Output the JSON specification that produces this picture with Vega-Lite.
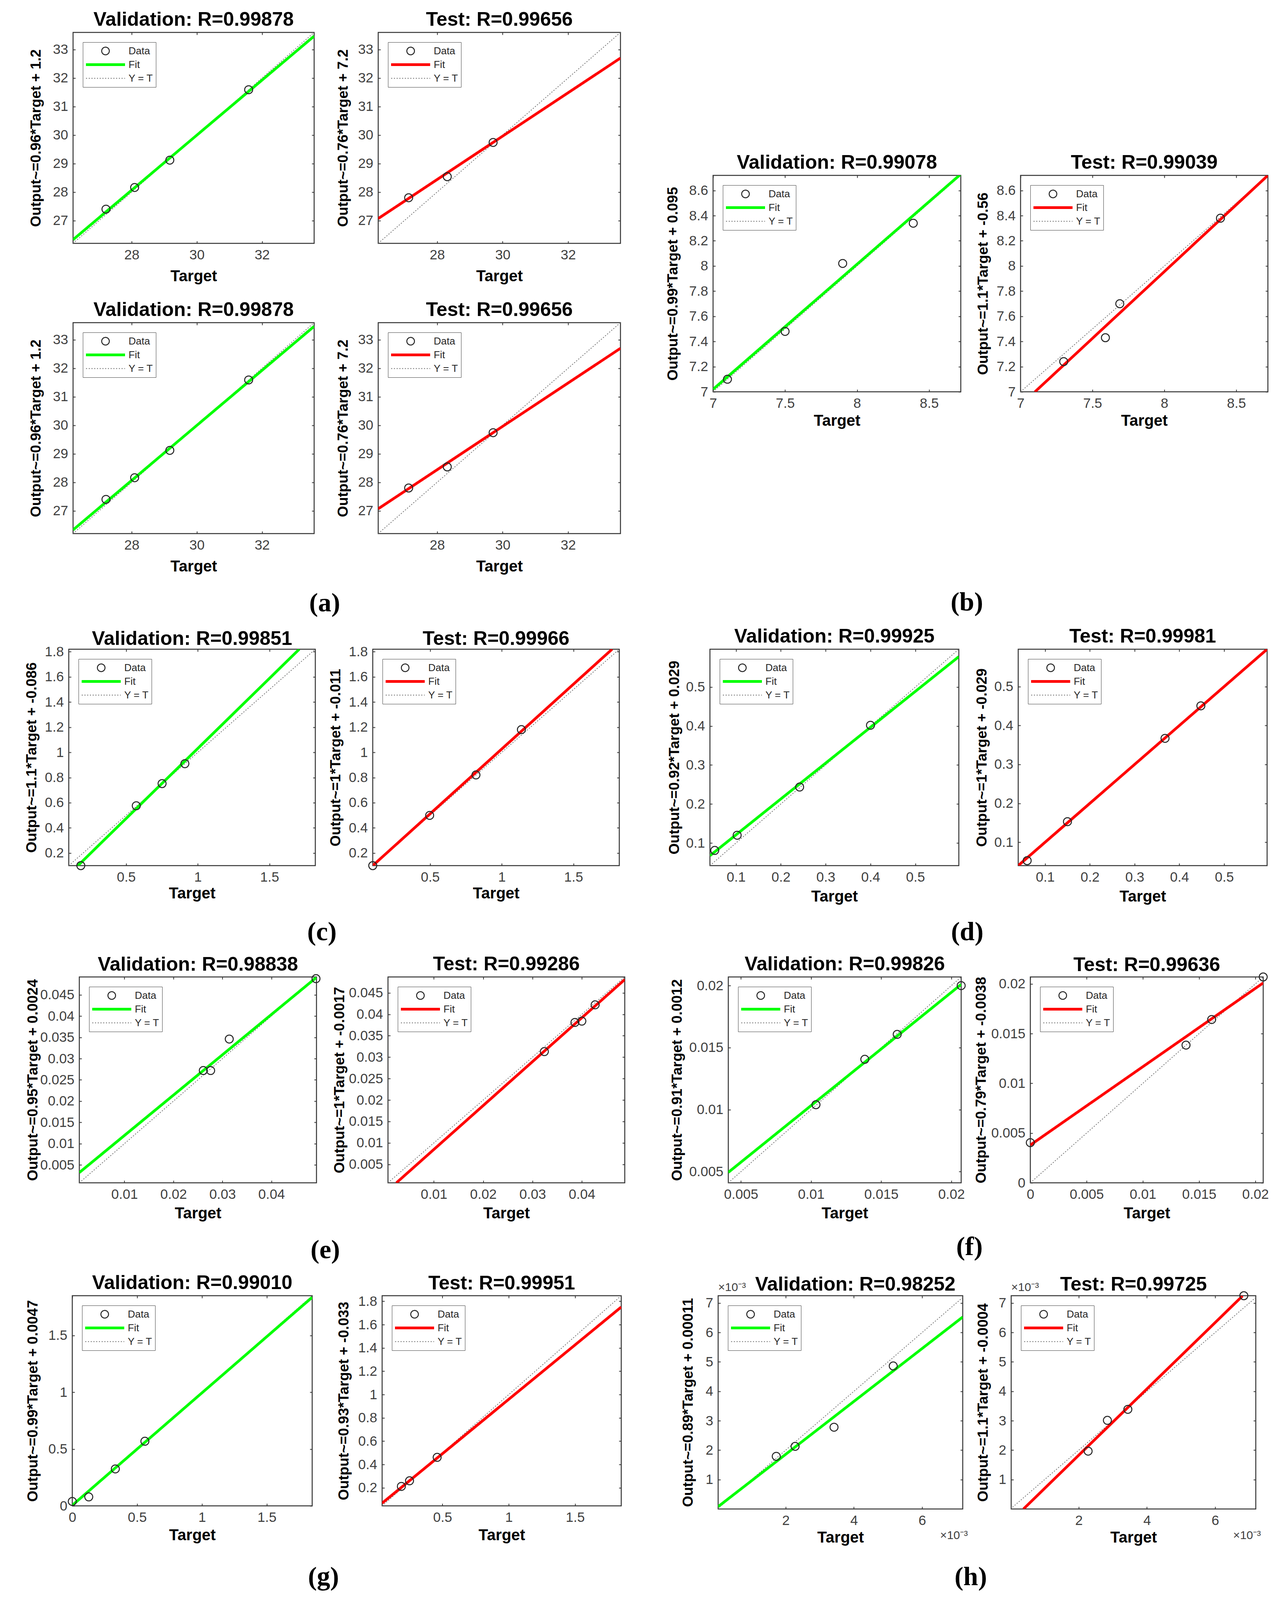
{
"$schema": "https://vega.github.io/schema/vega-lite/v6.json",
"padding": {"left": 54, "top": 24, "right": 10, "bottom": 5},
"background": "white",
"data": {"values": [
{"panel":"a1v","series":"Data","t":27.21,"o":27.40},{"panel":"a1v","series":"Data","t":28.09,"o":28.16},{"panel":"a1v","series":"Data","t":29.17,"o":29.12},{"panel":"a1v","series":"Data","t":31.59,"o":31.59},
{"panel":"a1v","series":"Fit","t":26.2,"o":26.33},{"panel":"a1v","series":"Fit","t":33.6,"o":33.47},
{"panel":"a1v","series":"Y = T","t":26.2,"o":26.2},{"panel":"a1v","series":"Y = T","t":33.6,"o":33.6},
{"panel":"a1t","series":"Data","t":27.13,"o":27.80},{"panel":"a1t","series":"Data","t":28.31,"o":28.54},{"panel":"a1t","series":"Data","t":29.71,"o":29.74},
{"panel":"a1t","series":"Fit","t":26.2,"o":27.07},{"panel":"a1t","series":"Fit","t":33.6,"o":32.70},
{"panel":"a1t","series":"Y = T","t":26.2,"o":26.2},{"panel":"a1t","series":"Y = T","t":33.6,"o":33.6},
{"panel":"bv","series":"Data","t":7.10,"o":7.10},{"panel":"bv","series":"Data","t":7.50,"o":7.48},{"panel":"bv","series":"Data","t":7.90,"o":8.02},{"panel":"bv","series":"Data","t":8.39,"o":8.34},
{"panel":"bv","series":"Fit","t":7.0,"o":7.02},{"panel":"bv","series":"Fit","t":8.72,"o":8.73},
{"panel":"bv","series":"Y = T","t":7.0,"o":7.0},{"panel":"bv","series":"Y = T","t":8.72,"o":8.72},
{"panel":"bt","series":"Data","t":7.30,"o":7.24},{"panel":"bt","series":"Data","t":7.59,"o":7.43},{"panel":"bt","series":"Data","t":7.69,"o":7.70},{"panel":"bt","series":"Data","t":8.39,"o":8.38},
{"panel":"bt","series":"Fit","t":7.1,"o":7.0},{"panel":"bt","series":"Fit","t":8.72,"o":8.72},
{"panel":"bt","series":"Y = T","t":7.0,"o":7.0},{"panel":"bt","series":"Y = T","t":8.72,"o":8.72},
{"panel":"cv","series":"Data","t":0.184,"o":0.10},{"panel":"cv","series":"Data","t":0.571,"o":0.576},{"panel":"cv","series":"Data","t":0.751,"o":0.752},{"panel":"cv","series":"Data","t":0.910,"o":0.910},
{"panel":"cv","series":"Fit","t":0.164,"o":0.1},{"panel":"cv","series":"Fit","t":1.708,"o":1.82},
{"panel":"cv","series":"Y = T","t":0.1,"o":0.1},{"panel":"cv","series":"Y = T","t":1.82,"o":1.82},
{"panel":"ct","series":"Data","t":0.1,"o":0.1},{"panel":"ct","series":"Data","t":0.497,"o":0.499},{"panel":"ct","series":"Data","t":0.82,"o":0.821},{"panel":"ct","series":"Data","t":1.137,"o":1.181},
{"panel":"ct","series":"Fit","t":0.1,"o":0.1},{"panel":"ct","series":"Fit","t":1.77,"o":1.82},
{"panel":"ct","series":"Y = T","t":0.1,"o":0.1},{"panel":"ct","series":"Y = T","t":1.82,"o":1.82},
{"panel":"dv","series":"Data","t":0.0527,"o":0.081},{"panel":"dv","series":"Data","t":0.1027,"o":0.12},{"panel":"dv","series":"Data","t":0.242,"o":0.2435},{"panel":"dv","series":"Data","t":0.4,"o":0.402},
{"panel":"dv","series":"Fit","t":0.042,"o":0.0676},{"panel":"dv","series":"Fit","t":0.597,"o":0.578},
{"panel":"dv","series":"Y = T","t":0.042,"o":0.042},{"panel":"dv","series":"Y = T","t":0.597,"o":0.597},
{"panel":"dt","series":"Data","t":0.06,"o":0.0528},{"panel":"dt","series":"Data","t":0.15,"o":0.153},{"panel":"dt","series":"Data","t":0.368,"o":0.367},{"panel":"dt","series":"Data","t":0.448,"o":0.4505},
{"panel":"dt","series":"Fit","t":0.04,"o":0.04},{"panel":"dt","series":"Fit","t":0.596,"o":0.596},
{"panel":"dt","series":"Y = T","t":0.04,"o":0.04},{"panel":"dt","series":"Y = T","t":0.596,"o":0.596},
{"panel":"ev","series":"Data","t":0.0261,"o":0.0272},{"panel":"ev","series":"Data","t":0.0276,"o":0.0272},{"panel":"ev","series":"Data","t":0.0314,"o":0.0346},{"panel":"ev","series":"Data","t":0.0491,"o":0.0488},
{"panel":"ev","series":"Fit","t":0.0008,"o":0.0032},{"panel":"ev","series":"Fit","t":0.0492,"o":0.0491},
{"panel":"ev","series":"Y = T","t":0.0008,"o":0.0008},{"panel":"ev","series":"Y = T","t":0.0492,"o":0.0492},
{"panel":"et","series":"Data","t":0.0324,"o":0.0313},{"panel":"et","series":"Data","t":0.0386,"o":0.0381},{"panel":"et","series":"Data","t":0.04,"o":0.0384},{"panel":"et","series":"Data","t":0.0427,"o":0.0422},
{"panel":"et","series":"Fit","t":0.0024,"o":0.0007},{"panel":"et","series":"Fit","t":0.0487,"o":0.0481},
{"panel":"et","series":"Y = T","t":0.0007,"o":0.0007},{"panel":"et","series":"Y = T","t":0.0487,"o":0.0487},
{"panel":"fv","series":"Data","t":0.01035,"o":0.0104},{"panel":"fv","series":"Data","t":0.01383,"o":0.01406},{"panel":"fv","series":"Data","t":0.01614,"o":0.01607},{"panel":"fv","series":"Data","t":0.0207,"o":0.02},
{"panel":"fv","series":"Fit","t":0.0041,"o":0.00494},{"panel":"fv","series":"Fit","t":0.0207,"o":0.0201},
{"panel":"fv","series":"Y = T","t":0.0041,"o":0.0041},{"panel":"fv","series":"Y = T","t":0.0207,"o":0.0207},
{"panel":"ft","series":"Data","t":0,"o":0.00404},{"panel":"ft","series":"Data","t":0.01384,"o":0.01385},{"panel":"ft","series":"Data","t":0.01612,"o":0.01642},{"panel":"ft","series":"Data","t":0.0207,"o":0.0207},
{"panel":"ft","series":"Fit","t":0,"o":0.0038},{"panel":"ft","series":"Fit","t":0.0207,"o":0.0201},
{"panel":"ft","series":"Y = T","t":0,"o":0},{"panel":"ft","series":"Y = T","t":0.0207,"o":0.0207},
{"panel":"gv","series":"Data","t":0,"o":0.039},{"panel":"gv","series":"Data","t":0.127,"o":0.079},{"panel":"gv","series":"Data","t":0.332,"o":0.325},{"panel":"gv","series":"Data","t":0.56,"o":0.569},
{"panel":"gv","series":"Fit","t":0,"o":0.005},{"panel":"gv","series":"Fit","t":1.85,"o":1.836},
{"panel":"gv","series":"Y = T","t":0,"o":0},{"panel":"gv","series":"Y = T","t":1.85,"o":1.85},
{"panel":"gt","series":"Data","t":0.19,"o":0.212},{"panel":"gt","series":"Data","t":0.2515,"o":0.26},{"panel":"gt","series":"Data","t":0.46,"o":0.461},
{"panel":"gt","series":"Fit","t":0.045,"o":0.068},{"panel":"gt","series":"Fit","t":1.848,"o":1.751},
{"panel":"gt","series":"Y = T","t":0.045,"o":0.045},{"panel":"gt","series":"Y = T","t":1.848,"o":1.848},
{"panel":"hv","series":"Data","t":0.001724,"o":0.00179},{"panel":"hv","series":"Data","t":0.002276,"o":0.002129},{"panel":"hv","series":"Data","t":0.003417,"o":0.00278},{"panel":"hv","series":"Data","t":0.005153,"o":0.004862},
{"panel":"hv","series":"Fit","t":0.00002,"o":0.000079},{"panel":"hv","series":"Fit","t":0.00719,"o":0.006525},
{"panel":"hv","series":"Y = T","t":0,"o":0},{"panel":"hv","series":"Y = T","t":0.00725,"o":0.00725},
{"panel":"ht","series":"Data","t":0.002276,"o":0.001966},{"panel":"ht","series":"Data","t":0.00284,"o":0.003014},{"panel":"ht","series":"Data","t":0.00344,"o":0.003387},{"panel":"ht","series":"Data","t":0.00684,"o":0.00725},
{"panel":"ht","series":"Fit","t":0.00038,"o":0},{"panel":"ht","series":"Fit","t":0.0068,"o":0.00724},
{"panel":"ht","series":"Y = T","t":0,"o":0},{"panel":"ht","series":"Y = T","t":0.00725,"o":0.00725}
]},
"vconcat": [
{"hconcat": [
 {"hconcat": [
  {"width": 17, "height": 10, "data": {"values": []}, "mark": "point", "view": {"stroke": null}},
  {"vconcat": [
    {"hconcat": [
      {"width": 617, "height": 540, "title": {"text": "Validation: R=0.99878"}, "transform": [{"filter": "datum.panel === 'a1v'"}],
       "layer": [
        {"transform": [{"filter": "datum.series === 'Y = T'"}], "mark": {"type": "line", "strokeDash": [3, 4], "strokeWidth": 2, "clip": true},
         "encoding": {"x": {"field": "t", "type": "quantitative", "scale": {"domain": [26.2, 33.6], "nice": false, "zero": false}, "axis": {"orient": "top", "values": [28, 30, 32], "labels": false, "title": null}},
                      "y": {"field": "o", "type": "quantitative", "scale": {"domain": [26.2, 33.6], "nice": false, "zero": false}, "axis": {"orient": "right", "values": [27, 28, 29, 30, 31, 32, 33], "labels": false, "title": null}},
                      "color": {"field": "series", "type": "nominal", "scale": {"domain": ["Data", "Fit", "Y = T"], "range": ["#262626", "#00ff00", "#777777"]},
                                "legend": {"title": null, "orient": "top-left", "offset": 25, "encode": {"symbols": {"update": {"shape": {"signal": "(datum.value === 'Data' ? 'circle' : 'stroke')"}, "size": {"signal": "(datum.value === 'Data' ? 380 : 10000)"}, "strokeWidth": {"signal": "(datum.value === 'Fit' ? 7 : (datum.value === 'Data' ? 2.5 : 2))"}, "strokeDash": {"signal": "(datum.value === 'Y = T' ? [3, 4] : [1, 0])"}, "fill": {"value": "transparent"}, "opacity": {"value": 1}}}}}}}},
        {"transform": [{"filter": "datum.series === 'Fit'"}], "mark": {"type": "line", "strokeWidth": 7, "clip": true},
         "encoding": {"x": {"field": "t", "type": "quantitative", "scale": {"domain": [26.2, 33.6], "nice": false, "zero": false}, "axis": {"orient": "bottom", "values": [28, 30, 32], "format": "~g", "title": "Target", "minExtent": 64, "maxExtent": 64}},
                      "y": {"field": "o", "type": "quantitative", "scale": {"domain": [26.2, 33.6], "nice": false, "zero": false}, "axis": {"orient": "left", "values": [27, 28, 29, 30, 31, 32, 33], "format": "~g", "title": "Output~=0.96*Target + 1.2", "minExtent": 76, "maxExtent": 76}},
                      "color": {"field": "series", "type": "nominal"}}},
        {"transform": [{"filter": "datum.series === 'Data'"}], "mark": {"type": "point", "filled": false, "size": 420, "strokeWidth": 2.5, "opacity": 1},
         "encoding": {"x": {"field": "t", "type": "quantitative", "axis": null}, "y": {"field": "o", "type": "quantitative", "axis": null}, "color": {"field": "series", "type": "nominal"}}}
       ],
       "resolve": {"axis": {"x": "independent", "y": "independent"}}},
      {"width": 620, "height": 540, "title": {"text": "Test: R=0.99656"}, "transform": [{"filter": "datum.panel === 'a1t'"}],
       "layer": [
        {"transform": [{"filter": "datum.series === 'Y = T'"}], "mark": {"type": "line", "strokeDash": [3, 4], "strokeWidth": 2, "clip": true},
         "encoding": {"x": {"field": "t", "type": "quantitative", "scale": {"domain": [26.2, 33.6], "nice": false, "zero": false}, "axis": {"orient": "top", "values": [28, 30, 32], "labels": false, "title": null}},
                      "y": {"field": "o", "type": "quantitative", "scale": {"domain": [26.2, 33.6], "nice": false, "zero": false}, "axis": {"orient": "right", "values": [27, 28, 29, 30, 31, 32, 33], "labels": false, "title": null}},
                      "color": {"field": "series", "type": "nominal", "scale": {"domain": ["Data", "Fit", "Y = T"], "range": ["#262626", "#ff0000", "#777777"]},
                                "legend": {"title": null, "orient": "top-left", "offset": 25, "encode": {"symbols": {"update": {"shape": {"signal": "(datum.value === 'Data' ? 'circle' : 'stroke')"}, "size": {"signal": "(datum.value === 'Data' ? 380 : 10000)"}, "strokeWidth": {"signal": "(datum.value === 'Fit' ? 7 : (datum.value === 'Data' ? 2.5 : 2))"}, "strokeDash": {"signal": "(datum.value === 'Y = T' ? [3, 4] : [1, 0])"}, "fill": {"value": "transparent"}, "opacity": {"value": 1}}}}}}}},
        {"transform": [{"filter": "datum.series === 'Fit'"}], "mark": {"type": "line", "strokeWidth": 7, "clip": true},
         "encoding": {"x": {"field": "t", "type": "quantitative", "scale": {"domain": [26.2, 33.6], "nice": false, "zero": false}, "axis": {"orient": "bottom", "values": [28, 30, 32], "format": "~g", "title": "Target", "minExtent": 64, "maxExtent": 64}},
                      "y": {"field": "o", "type": "quantitative", "scale": {"domain": [26.2, 33.6], "nice": false, "zero": false}, "axis": {"orient": "left", "values": [27, 28, 29, 30, 31, 32, 33], "format": "~g", "title": "Output~=0.76*Target + 7.2", "minExtent": 71, "maxExtent": 71}},
                      "color": {"field": "series", "type": "nominal"}}},
        {"transform": [{"filter": "datum.series === 'Data'"}], "mark": {"type": "point", "filled": false, "size": 420, "strokeWidth": 2.5, "opacity": 1},
         "encoding": {"x": {"field": "t", "type": "quantitative", "axis": null}, "y": {"field": "o", "type": "quantitative", "axis": null}, "color": {"field": "series", "type": "nominal"}}}
       ],
       "resolve": {"axis": {"x": "independent", "y": "independent"}}}
    ], "spacing": 164, "bounds": "flush", "resolve": {"scale": {"color": "independent"}, "legend": {"color": "independent"}}},
    {"hconcat": [
      {"width": 617, "height": 540, "title": {"text": "Validation: R=0.99878"}, "transform": [{"filter": "datum.panel === 'a1v'"}],
       "layer": [
        {"transform": [{"filter": "datum.series === 'Y = T'"}], "mark": {"type": "line", "strokeDash": [3, 4], "strokeWidth": 2, "clip": true},
         "encoding": {"x": {"field": "t", "type": "quantitative", "scale": {"domain": [26.2, 33.6], "nice": false, "zero": false}, "axis": {"orient": "top", "values": [28, 30, 32], "labels": false, "title": null}},
                      "y": {"field": "o", "type": "quantitative", "scale": {"domain": [26.2, 33.6], "nice": false, "zero": false}, "axis": {"orient": "right", "values": [27, 28, 29, 30, 31, 32, 33], "labels": false, "title": null}},
                      "color": {"field": "series", "type": "nominal", "scale": {"domain": ["Data", "Fit", "Y = T"], "range": ["#262626", "#00ff00", "#777777"]},
                                "legend": {"title": null, "orient": "top-left", "offset": 25, "encode": {"symbols": {"update": {"shape": {"signal": "(datum.value === 'Data' ? 'circle' : 'stroke')"}, "size": {"signal": "(datum.value === 'Data' ? 380 : 10000)"}, "strokeWidth": {"signal": "(datum.value === 'Fit' ? 7 : (datum.value === 'Data' ? 2.5 : 2))"}, "strokeDash": {"signal": "(datum.value === 'Y = T' ? [3, 4] : [1, 0])"}, "fill": {"value": "transparent"}, "opacity": {"value": 1}}}}}}}},
        {"transform": [{"filter": "datum.series === 'Fit'"}], "mark": {"type": "line", "strokeWidth": 7, "clip": true},
         "encoding": {"x": {"field": "t", "type": "quantitative", "scale": {"domain": [26.2, 33.6], "nice": false, "zero": false}, "axis": {"orient": "bottom", "values": [28, 30, 32], "format": "~g", "title": "Target", "minExtent": 64, "maxExtent": 64}},
                      "y": {"field": "o", "type": "quantitative", "scale": {"domain": [26.2, 33.6], "nice": false, "zero": false}, "axis": {"orient": "left", "values": [27, 28, 29, 30, 31, 32, 33], "format": "~g", "title": "Output~=0.96*Target + 1.2", "minExtent": 76, "maxExtent": 76}},
                      "color": {"field": "series", "type": "nominal"}}},
        {"transform": [{"filter": "datum.series === 'Data'"}], "mark": {"type": "point", "filled": false, "size": 420, "strokeWidth": 2.5, "opacity": 1},
         "encoding": {"x": {"field": "t", "type": "quantitative", "axis": null}, "y": {"field": "o", "type": "quantitative", "axis": null}, "color": {"field": "series", "type": "nominal"}}}
       ],
       "resolve": {"axis": {"x": "independent", "y": "independent"}}},
      {"width": 620, "height": 540, "title": {"text": "Test: R=0.99656"}, "transform": [{"filter": "datum.panel === 'a1t'"}],
       "layer": [
        {"transform": [{"filter": "datum.series === 'Y = T'"}], "mark": {"type": "line", "strokeDash": [3, 4], "strokeWidth": 2, "clip": true},
         "encoding": {"x": {"field": "t", "type": "quantitative", "scale": {"domain": [26.2, 33.6], "nice": false, "zero": false}, "axis": {"orient": "top", "values": [28, 30, 32], "labels": false, "title": null}},
                      "y": {"field": "o", "type": "quantitative", "scale": {"domain": [26.2, 33.6], "nice": false, "zero": false}, "axis": {"orient": "right", "values": [27, 28, 29, 30, 31, 32, 33], "labels": false, "title": null}},
                      "color": {"field": "series", "type": "nominal", "scale": {"domain": ["Data", "Fit", "Y = T"], "range": ["#262626", "#ff0000", "#777777"]},
                                "legend": {"title": null, "orient": "top-left", "offset": 25, "encode": {"symbols": {"update": {"shape": {"signal": "(datum.value === 'Data' ? 'circle' : 'stroke')"}, "size": {"signal": "(datum.value === 'Data' ? 380 : 10000)"}, "strokeWidth": {"signal": "(datum.value === 'Fit' ? 7 : (datum.value === 'Data' ? 2.5 : 2))"}, "strokeDash": {"signal": "(datum.value === 'Y = T' ? [3, 4] : [1, 0])"}, "fill": {"value": "transparent"}, "opacity": {"value": 1}}}}}}}},
        {"transform": [{"filter": "datum.series === 'Fit'"}], "mark": {"type": "line", "strokeWidth": 7, "clip": true},
         "encoding": {"x": {"field": "t", "type": "quantitative", "scale": {"domain": [26.2, 33.6], "nice": false, "zero": false}, "axis": {"orient": "bottom", "values": [28, 30, 32], "format": "~g", "title": "Target", "minExtent": 64, "maxExtent": 64}},
                      "y": {"field": "o", "type": "quantitative", "scale": {"domain": [26.2, 33.6], "nice": false, "zero": false}, "axis": {"orient": "left", "values": [27, 28, 29, 30, 31, 32, 33], "format": "~g", "title": "Output~=0.76*Target + 7.2", "minExtent": 71, "maxExtent": 71}},
                      "color": {"field": "series", "type": "nominal"}}},
        {"transform": [{"filter": "datum.series === 'Data'"}], "mark": {"type": "point", "filled": false, "size": 420, "strokeWidth": 2.5, "opacity": 1},
         "encoding": {"x": {"field": "t", "type": "quantitative", "axis": null}, "y": {"field": "o", "type": "quantitative", "axis": null}, "color": {"field": "series", "type": "nominal"}}}
       ],
       "resolve": {"axis": {"x": "independent", "y": "independent"}}}
    ], "spacing": 164, "bounds": "flush", "resolve": {"scale": {"color": "independent"}, "legend": {"color": "independent"}}}
  ], "spacing": 38,
  "title": {"text": "(a)", "orient": "bottom", "anchor": "middle", "frame": "bounds", "font": "Liberation Serif", "fontSize": 68, "fontWeight": "bold", "baseline": "top", "offset": 40, "color": "#000000"},
  "resolve": {"scale": {"color": "independent"}, "legend": {"color": "independent"}}}
 ], "spacing": 0, "resolve": {"scale": {"color": "independent"}, "legend": {"color": "independent"}}},
  {"vconcat": [
    {"width": 10, "height": 307, "data": {"values": []}, "mark": "point", "view": {"stroke": null}},
    {"hconcat": [
      {"width": 634, "height": 554, "title": {"text": "Validation: R=0.99078"}, "transform": [{"filter": "datum.panel === 'bv'"}],
       "layer": [
        {"transform": [{"filter": "datum.series === 'Y = T'"}], "mark": {"type": "line", "strokeDash": [3, 4], "strokeWidth": 2, "clip": true},
         "encoding": {"x": {"field": "t", "type": "quantitative", "scale": {"domain": [7.0, 8.72], "nice": false, "zero": false}, "axis": {"orient": "top", "values": [7, 7.5, 8, 8.5], "labels": false, "title": null}},
                      "y": {"field": "o", "type": "quantitative", "scale": {"domain": [7.0, 8.72], "nice": false, "zero": false}, "axis": {"orient": "right", "values": [7, 7.2, 7.4, 7.6, 7.8, 8, 8.2, 8.4, 8.6], "labels": false, "title": null}},
                      "color": {"field": "series", "type": "nominal", "scale": {"domain": ["Data", "Fit", "Y = T"], "range": ["#262626", "#00ff00", "#777777"]},
                                "legend": {"title": null, "orient": "top-left", "offset": 25, "encode": {"symbols": {"update": {"shape": {"signal": "(datum.value === 'Data' ? 'circle' : 'stroke')"}, "size": {"signal": "(datum.value === 'Data' ? 380 : 10000)"}, "strokeWidth": {"signal": "(datum.value === 'Fit' ? 7 : (datum.value === 'Data' ? 2.5 : 2))"}, "strokeDash": {"signal": "(datum.value === 'Y = T' ? [3, 4] : [1, 0])"}, "fill": {"value": "transparent"}, "opacity": {"value": 1}}}}}}}},
        {"transform": [{"filter": "datum.series === 'Fit'"}], "mark": {"type": "line", "strokeWidth": 7, "clip": true},
         "encoding": {"x": {"field": "t", "type": "quantitative", "scale": {"domain": [7.0, 8.72], "nice": false, "zero": false}, "axis": {"orient": "bottom", "values": [7, 7.5, 8, 8.5], "format": "~g", "title": "Target", "minExtent": 54, "maxExtent": 54}},
                      "y": {"field": "o", "type": "quantitative", "scale": {"domain": [7.0, 8.72], "nice": false, "zero": false}, "axis": {"orient": "left", "values": [7, 7.2, 7.4, 7.6, 7.8, 8, 8.2, 8.4, 8.6], "format": "~g", "title": "Output~=0.99*Target + 0.095", "minExtent": 84, "maxExtent": 84}},
                      "color": {"field": "series", "type": "nominal"}}},
        {"transform": [{"filter": "datum.series === 'Data'"}], "mark": {"type": "point", "filled": false, "size": 420, "strokeWidth": 2.5, "opacity": 1},
         "encoding": {"x": {"field": "t", "type": "quantitative", "axis": null}, "y": {"field": "o", "type": "quantitative", "axis": null}, "color": {"field": "series", "type": "nominal"}}}
       ],
       "resolve": {"axis": {"x": "independent", "y": "independent"}}},
      {"width": 633, "height": 554, "title": {"text": "Test: R=0.99039"}, "transform": [{"filter": "datum.panel === 'bt'"}],
       "layer": [
        {"transform": [{"filter": "datum.series === 'Y = T'"}], "mark": {"type": "line", "strokeDash": [3, 4], "strokeWidth": 2, "clip": true},
         "encoding": {"x": {"field": "t", "type": "quantitative", "scale": {"domain": [7.0, 8.72], "nice": false, "zero": false}, "axis": {"orient": "top", "values": [7, 7.5, 8, 8.5], "labels": false, "title": null}},
                      "y": {"field": "o", "type": "quantitative", "scale": {"domain": [7.0, 8.72], "nice": false, "zero": false}, "axis": {"orient": "right", "values": [7, 7.2, 7.4, 7.6, 7.8, 8, 8.2, 8.4, 8.6], "labels": false, "title": null}},
                      "color": {"field": "series", "type": "nominal", "scale": {"domain": ["Data", "Fit", "Y = T"], "range": ["#262626", "#ff0000", "#777777"]},
                                "legend": {"title": null, "orient": "top-left", "offset": 25, "encode": {"symbols": {"update": {"shape": {"signal": "(datum.value === 'Data' ? 'circle' : 'stroke')"}, "size": {"signal": "(datum.value === 'Data' ? 380 : 10000)"}, "strokeWidth": {"signal": "(datum.value === 'Fit' ? 7 : (datum.value === 'Data' ? 2.5 : 2))"}, "strokeDash": {"signal": "(datum.value === 'Y = T' ? [3, 4] : [1, 0])"}, "fill": {"value": "transparent"}, "opacity": {"value": 1}}}}}}}},
        {"transform": [{"filter": "datum.series === 'Fit'"}], "mark": {"type": "line", "strokeWidth": 7, "clip": true},
         "encoding": {"x": {"field": "t", "type": "quantitative", "scale": {"domain": [7.0, 8.72], "nice": false, "zero": false}, "axis": {"orient": "bottom", "values": [7, 7.5, 8, 8.5], "format": "~g", "title": "Target", "minExtent": 54, "maxExtent": 54}},
                      "y": {"field": "o", "type": "quantitative", "scale": {"domain": [7.0, 8.72], "nice": false, "zero": false}, "axis": {"orient": "left", "values": [7, 7.2, 7.4, 7.6, 7.8, 8, 8.2, 8.4, 8.6], "format": "~g", "title": "Output~=1.1*Target + -0.56", "minExtent": 77, "maxExtent": 77}},
                      "color": {"field": "series", "type": "nominal"}}},
        {"transform": [{"filter": "datum.series === 'Data'"}], "mark": {"type": "point", "filled": false, "size": 420, "strokeWidth": 2.5, "opacity": 1},
         "encoding": {"x": {"field": "t", "type": "quantitative", "axis": null}, "y": {"field": "o", "type": "quantitative", "axis": null}, "color": {"field": "series", "type": "nominal"}}}
       ],
       "resolve": {"axis": {"x": "independent", "y": "independent"}}}
    ], "spacing": 153, "bounds": "flush", "resolve": {"scale": {"color": "independent"}, "legend": {"color": "independent"}}}
  ], "spacing": 0,
  "title": {"text": "(b)", "orient": "bottom", "anchor": "middle", "frame": "bounds", "font": "Liberation Serif", "fontSize": 68, "fontWeight": "bold", "baseline": "top", "offset": 411, "color": "#000000"},
  "resolve": {"scale": {"color": "independent"}, "legend": {"color": "independent"}}}
], "spacing": 110, "resolve": {"scale": {"color": "independent"}, "legend": {"color": "independent"}}},

{"vconcat": [
{"hconcat": [
 {"hconcat": [
  {"width": 6, "height": 10, "data": {"values": []}, "mark": "point", "view": {"stroke": null}},
  {"hconcat": [
    {"width": 631, "height": 554, "title": {"text": "Validation: R=0.99851", "offset": -10}, "transform": [{"filter": "datum.panel === 'cv'"}],
     "layer": [
      {"transform": [{"filter": "datum.series === 'Y = T'"}], "mark": {"type": "line", "strokeDash": [3, 4], "strokeWidth": 2, "clip": true},
       "encoding": {"x": {"field": "t", "type": "quantitative", "scale": {"domain": [0.1, 1.82], "nice": false, "zero": false}, "axis": {"orient": "top", "values": [0.5, 1, 1.5], "labels": false, "title": null}},
                    "y": {"field": "o", "type": "quantitative", "scale": {"domain": [0.1, 1.82], "nice": false, "zero": false}, "axis": {"orient": "right", "values": [0.2, 0.4, 0.6, 0.8, 1, 1.2, 1.4, 1.6, 1.8], "labels": false, "title": null}},
                    "color": {"field": "series", "type": "nominal", "scale": {"domain": ["Data", "Fit", "Y = T"], "range": ["#262626", "#00ff00", "#777777"]},
                              "legend": {"title": null, "orient": "top-left", "offset": 25, "encode": {"symbols": {"update": {"shape": {"signal": "(datum.value === 'Data' ? 'circle' : 'stroke')"}, "size": {"signal": "(datum.value === 'Data' ? 380 : 10000)"}, "strokeWidth": {"signal": "(datum.value === 'Fit' ? 7 : (datum.value === 'Data' ? 2.5 : 2))"}, "strokeDash": {"signal": "(datum.value === 'Y = T' ? [3, 4] : [1, 0])"}, "fill": {"value": "transparent"}, "opacity": {"value": 1}}}}}}}},
      {"transform": [{"filter": "datum.series === 'Fit'"}], "mark": {"type": "line", "strokeWidth": 7, "clip": true},
       "encoding": {"x": {"field": "t", "type": "quantitative", "scale": {"domain": [0.1, 1.82], "nice": false, "zero": false}, "axis": {"orient": "bottom", "values": [0.5, 1, 1.5], "format": "~g", "title": "Target", "minExtent": 51, "maxExtent": 51}},
                    "y": {"field": "o", "type": "quantitative", "scale": {"domain": [0.1, 1.82], "nice": false, "zero": false}, "axis": {"orient": "left", "values": [0.2, 0.4, 0.6, 0.8, 1, 1.2, 1.4, 1.6, 1.8], "format": "~g", "title": "Output~=1.1*Target + -0.086", "minExtent": 76, "maxExtent": 76}},
                    "color": {"field": "series", "type": "nominal"}}},
      {"transform": [{"filter": "datum.series === 'Data'"}], "mark": {"type": "point", "filled": false, "size": 420, "strokeWidth": 2.5, "opacity": 1},
       "encoding": {"x": {"field": "t", "type": "quantitative", "axis": null}, "y": {"field": "o", "type": "quantitative", "axis": null}, "color": {"field": "series", "type": "nominal"}}}
     ],
     "resolve": {"axis": {"x": "independent", "y": "independent"}}},
    {"width": 631, "height": 554, "title": {"text": "Test: R=0.99966", "offset": -10}, "transform": [{"filter": "datum.panel === 'ct'"}],
     "layer": [
      {"transform": [{"filter": "datum.series === 'Y = T'"}], "mark": {"type": "line", "strokeDash": [3, 4], "strokeWidth": 2, "clip": true},
       "encoding": {"x": {"field": "t", "type": "quantitative", "scale": {"domain": [0.1, 1.82], "nice": false, "zero": false}, "axis": {"orient": "top", "values": [0.5, 1, 1.5], "labels": false, "title": null}},
                    "y": {"field": "o", "type": "quantitative", "scale": {"domain": [0.1, 1.82], "nice": false, "zero": false}, "axis": {"orient": "right", "values": [0.2, 0.4, 0.6, 0.8, 1, 1.2, 1.4, 1.6, 1.8], "labels": false, "title": null}},
                    "color": {"field": "series", "type": "nominal", "scale": {"domain": ["Data", "Fit", "Y = T"], "range": ["#262626", "#ff0000", "#777777"]},
                              "legend": {"title": null, "orient": "top-left", "offset": 25, "encode": {"symbols": {"update": {"shape": {"signal": "(datum.value === 'Data' ? 'circle' : 'stroke')"}, "size": {"signal": "(datum.value === 'Data' ? 380 : 10000)"}, "strokeWidth": {"signal": "(datum.value === 'Fit' ? 7 : (datum.value === 'Data' ? 2.5 : 2))"}, "strokeDash": {"signal": "(datum.value === 'Y = T' ? [3, 4] : [1, 0])"}, "fill": {"value": "transparent"}, "opacity": {"value": 1}}}}}}}},
      {"transform": [{"filter": "datum.series === 'Fit'"}], "mark": {"type": "line", "strokeWidth": 7, "clip": true},
       "encoding": {"x": {"field": "t", "type": "quantitative", "scale": {"domain": [0.1, 1.82], "nice": false, "zero": false}, "axis": {"orient": "bottom", "values": [0.5, 1, 1.5], "format": "~g", "title": "Target", "minExtent": 51, "maxExtent": 51}},
                    "y": {"field": "o", "type": "quantitative", "scale": {"domain": [0.1, 1.82], "nice": false, "zero": false}, "axis": {"orient": "left", "values": [0.2, 0.4, 0.6, 0.8, 1, 1.2, 1.4, 1.6, 1.8], "format": "~g", "title": "Output~=1*Target + -0.011", "minExtent": 76, "maxExtent": 76}},
                    "color": {"field": "series", "type": "nominal"}}},
      {"transform": [{"filter": "datum.series === 'Data'"}], "mark": {"type": "point", "filled": false, "size": 420, "strokeWidth": 2.5, "opacity": 1},
       "encoding": {"x": {"field": "t", "type": "quantitative", "axis": null}, "y": {"field": "o", "type": "quantitative", "axis": null}, "color": {"field": "series", "type": "nominal"}}}
     ],
     "resolve": {"axis": {"x": "independent", "y": "independent"}}}
  ], "spacing": 147, "bounds": "flush",
  "title": {"text": "(c)", "orient": "bottom", "anchor": "middle", "frame": "bounds", "font": "Liberation Serif", "fontSize": 68, "fontWeight": "bold", "baseline": "top", "offset": 45, "color": "#000000"},
  "resolve": {"scale": {"color": "independent"}, "legend": {"color": "independent"}}}
 ], "spacing": 0, "resolve": {"scale": {"color": "independent"}, "legend": {"color": "independent"}}},
  {"hconcat": [
    {"width": 637, "height": 554, "title": {"text": "Validation: R=0.99925"}, "transform": [{"filter": "datum.panel === 'dv'"}],
     "layer": [
      {"transform": [{"filter": "datum.series === 'Y = T'"}], "mark": {"type": "line", "strokeDash": [3, 4], "strokeWidth": 2, "clip": true},
       "encoding": {"x": {"field": "t", "type": "quantitative", "scale": {"domain": [0.042, 0.597], "nice": false, "zero": false}, "axis": {"orient": "top", "values": [0.1, 0.2, 0.3, 0.4, 0.5], "labels": false, "title": null}},
                    "y": {"field": "o", "type": "quantitative", "scale": {"domain": [0.042, 0.597], "nice": false, "zero": false}, "axis": {"orient": "right", "values": [0.1, 0.2, 0.3, 0.4, 0.5], "labels": false, "title": null}},
                    "color": {"field": "series", "type": "nominal", "scale": {"domain": ["Data", "Fit", "Y = T"], "range": ["#262626", "#00ff00", "#777777"]},
                              "legend": {"title": null, "orient": "top-left", "offset": 25, "encode": {"symbols": {"update": {"shape": {"signal": "(datum.value === 'Data' ? 'circle' : 'stroke')"}, "size": {"signal": "(datum.value === 'Data' ? 380 : 10000)"}, "strokeWidth": {"signal": "(datum.value === 'Fit' ? 7 : (datum.value === 'Data' ? 2.5 : 2))"}, "strokeDash": {"signal": "(datum.value === 'Y = T' ? [3, 4] : [1, 0])"}, "fill": {"value": "transparent"}, "opacity": {"value": 1}}}}}}}},
      {"transform": [{"filter": "datum.series === 'Fit'"}], "mark": {"type": "line", "strokeWidth": 7, "clip": true},
       "encoding": {"x": {"field": "t", "type": "quantitative", "scale": {"domain": [0.042, 0.597], "nice": false, "zero": false}, "axis": {"orient": "bottom", "values": [0.1, 0.2, 0.3, 0.4, 0.5], "format": "~g", "title": "Target", "minExtent": 59, "maxExtent": 59}},
                    "y": {"field": "o", "type": "quantitative", "scale": {"domain": [0.042, 0.597], "nice": false, "zero": false}, "axis": {"orient": "left", "values": [0.1, 0.2, 0.3, 0.4, 0.5], "format": "~g", "title": "Output~=0.92*Target + 0.029", "minExtent": 72, "maxExtent": 72}},
                    "color": {"field": "series", "type": "nominal"}}},
      {"transform": [{"filter": "datum.series === 'Data'"}], "mark": {"type": "point", "filled": false, "size": 420, "strokeWidth": 2.5, "opacity": 1},
       "encoding": {"x": {"field": "t", "type": "quantitative", "axis": null}, "y": {"field": "o", "type": "quantitative", "axis": null}, "color": {"field": "series", "type": "nominal"}}}
     ],
     "resolve": {"axis": {"x": "independent", "y": "independent"}}},
    {"width": 637, "height": 554, "title": {"text": "Test: R=0.99981"}, "transform": [{"filter": "datum.panel === 'dt'"}],
     "layer": [
      {"transform": [{"filter": "datum.series === 'Y = T'"}], "mark": {"type": "line", "strokeDash": [3, 4], "strokeWidth": 2, "clip": true},
       "encoding": {"x": {"field": "t", "type": "quantitative", "scale": {"domain": [0.04, 0.596], "nice": false, "zero": false}, "axis": {"orient": "top", "values": [0.1, 0.2, 0.3, 0.4, 0.5], "labels": false, "title": null}},
                    "y": {"field": "o", "type": "quantitative", "scale": {"domain": [0.04, 0.596], "nice": false, "zero": false}, "axis": {"orient": "right", "values": [0.1, 0.2, 0.3, 0.4, 0.5], "labels": false, "title": null}},
                    "color": {"field": "series", "type": "nominal", "scale": {"domain": ["Data", "Fit", "Y = T"], "range": ["#262626", "#ff0000", "#777777"]},
                              "legend": {"title": null, "orient": "top-left", "offset": 25, "encode": {"symbols": {"update": {"shape": {"signal": "(datum.value === 'Data' ? 'circle' : 'stroke')"}, "size": {"signal": "(datum.value === 'Data' ? 380 : 10000)"}, "strokeWidth": {"signal": "(datum.value === 'Fit' ? 7 : (datum.value === 'Data' ? 2.5 : 2))"}, "strokeDash": {"signal": "(datum.value === 'Y = T' ? [3, 4] : [1, 0])"}, "fill": {"value": "transparent"}, "opacity": {"value": 1}}}}}}}},
      {"transform": [{"filter": "datum.series === 'Fit'"}], "mark": {"type": "line", "strokeWidth": 7, "clip": true},
       "encoding": {"x": {"field": "t", "type": "quantitative", "scale": {"domain": [0.04, 0.596], "nice": false, "zero": false}, "axis": {"orient": "bottom", "values": [0.1, 0.2, 0.3, 0.4, 0.5], "format": "~g", "title": "Target", "minExtent": 59, "maxExtent": 59}},
                    "y": {"field": "o", "type": "quantitative", "scale": {"domain": [0.04, 0.596], "nice": false, "zero": false}, "axis": {"orient": "left", "values": [0.1, 0.2, 0.3, 0.4, 0.5], "format": "~g", "title": "Output~=1*Target + -0.029", "minExtent": 74, "maxExtent": 74}},
                    "color": {"field": "series", "type": "nominal"}}},
      {"transform": [{"filter": "datum.series === 'Data'"}], "mark": {"type": "point", "filled": false, "size": 420, "strokeWidth": 2.5, "opacity": 1},
       "encoding": {"x": {"field": "t", "type": "quantitative", "axis": null}, "y": {"field": "o", "type": "quantitative", "axis": null}, "color": {"field": "series", "type": "nominal"}}}
     ],
     "resolve": {"axis": {"x": "independent", "y": "independent"}}}
  ], "spacing": 152, "bounds": "flush",
  "title": {"text": "(d)", "orient": "bottom", "anchor": "middle", "frame": "bounds", "font": "Liberation Serif", "fontSize": 68, "fontWeight": "bold", "baseline": "top", "offset": 37, "color": "#000000"},
  "resolve": {"scale": {"color": "independent"}, "legend": {"color": "independent"}}}
], "spacing": 117, "resolve": {"scale": {"color": "independent"}, "legend": {"color": "independent"}}},

{"vconcat": [
{"hconcat": [
 {"hconcat": [
  {"width": 9, "height": 10, "data": {"values": []}, "mark": "point", "view": {"stroke": null}},
  {"hconcat": [
    {"width": 607, "height": 527, "title": {"text": "Validation: R=0.98838", "offset": -5}, "transform": [{"filter": "datum.panel === 'ev'"}],
     "layer": [
      {"transform": [{"filter": "datum.series === 'Y = T'"}], "mark": {"type": "line", "strokeDash": [3, 4], "strokeWidth": 2, "clip": true},
       "encoding": {"x": {"field": "t", "type": "quantitative", "scale": {"domain": [0.0008, 0.0492], "nice": false, "zero": false}, "axis": {"orient": "top", "values": [0.01, 0.02, 0.03, 0.04], "labels": false, "title": null}},
                    "y": {"field": "o", "type": "quantitative", "scale": {"domain": [0.0008, 0.0492], "nice": false, "zero": false}, "axis": {"orient": "right", "values": [0.005, 0.01, 0.015, 0.02, 0.025, 0.03, 0.035, 0.04, 0.045], "labels": false, "title": null}},
                    "color": {"field": "series", "type": "nominal", "scale": {"domain": ["Data", "Fit", "Y = T"], "range": ["#262626", "#00ff00", "#777777"]},
                              "legend": {"title": null, "orient": "top-left", "offset": 25, "encode": {"symbols": {"update": {"shape": {"signal": "(datum.value === 'Data' ? 'circle' : 'stroke')"}, "size": {"signal": "(datum.value === 'Data' ? 380 : 10000)"}, "strokeWidth": {"signal": "(datum.value === 'Fit' ? 7 : (datum.value === 'Data' ? 2.5 : 2))"}, "strokeDash": {"signal": "(datum.value === 'Y = T' ? [3, 4] : [1, 0])"}, "fill": {"value": "transparent"}, "opacity": {"value": 1}}}}}}}},
      {"transform": [{"filter": "datum.series === 'Fit'"}], "mark": {"type": "line", "strokeWidth": 7, "clip": true},
       "encoding": {"x": {"field": "t", "type": "quantitative", "scale": {"domain": [0.0008, 0.0492], "nice": false, "zero": false}, "axis": {"orient": "bottom", "values": [0.01, 0.02, 0.03, 0.04], "format": "~g", "title": "Target", "minExtent": 58, "maxExtent": 58}},
                    "y": {"field": "o", "type": "quantitative", "scale": {"domain": [0.0008, 0.0492], "nice": false, "zero": false}, "axis": {"orient": "left", "values": [0.005, 0.01, 0.015, 0.02, 0.025, 0.03, 0.035, 0.04, 0.045], "format": "~g", "title": "Output~=0.95*Target + 0.0024", "minExtent": 100, "maxExtent": 100}},
                    "color": {"field": "series", "type": "nominal"}}},
      {"transform": [{"filter": "datum.series === 'Data'"}], "mark": {"type": "point", "filled": false, "size": 420, "strokeWidth": 2.5, "opacity": 1},
       "encoding": {"x": {"field": "t", "type": "quantitative", "axis": null}, "y": {"field": "o", "type": "quantitative", "axis": null}, "color": {"field": "series", "type": "nominal"}}}
     ],
     "resolve": {"axis": {"x": "independent", "y": "independent"}}},
    {"width": 606, "height": 527, "title": {"text": "Test: R=0.99286"}, "transform": [{"filter": "datum.panel === 'et'"}],
     "layer": [
      {"transform": [{"filter": "datum.series === 'Y = T'"}], "mark": {"type": "line", "strokeDash": [3, 4], "strokeWidth": 2, "clip": true},
       "encoding": {"x": {"field": "t", "type": "quantitative", "scale": {"domain": [0.0007, 0.0487], "nice": false, "zero": false}, "axis": {"orient": "top", "values": [0.01, 0.02, 0.03, 0.04], "labels": false, "title": null}},
                    "y": {"field": "o", "type": "quantitative", "scale": {"domain": [0.0007, 0.0487], "nice": false, "zero": false}, "axis": {"orient": "right", "values": [0.005, 0.01, 0.015, 0.02, 0.025, 0.03, 0.035, 0.04, 0.045], "labels": false, "title": null}},
                    "color": {"field": "series", "type": "nominal", "scale": {"domain": ["Data", "Fit", "Y = T"], "range": ["#262626", "#ff0000", "#777777"]},
                              "legend": {"title": null, "orient": "top-left", "offset": 25, "encode": {"symbols": {"update": {"shape": {"signal": "(datum.value === 'Data' ? 'circle' : 'stroke')"}, "size": {"signal": "(datum.value === 'Data' ? 380 : 10000)"}, "strokeWidth": {"signal": "(datum.value === 'Fit' ? 7 : (datum.value === 'Data' ? 2.5 : 2))"}, "strokeDash": {"signal": "(datum.value === 'Y = T' ? [3, 4] : [1, 0])"}, "fill": {"value": "transparent"}, "opacity": {"value": 1}}}}}}}},
      {"transform": [{"filter": "datum.series === 'Fit'"}], "mark": {"type": "line", "strokeWidth": 7, "clip": true},
       "encoding": {"x": {"field": "t", "type": "quantitative", "scale": {"domain": [0.0007, 0.0487], "nice": false, "zero": false}, "axis": {"orient": "bottom", "values": [0.01, 0.02, 0.03, 0.04], "format": "~g", "title": "Target", "minExtent": 58, "maxExtent": 58}},
                    "y": {"field": "o", "type": "quantitative", "scale": {"domain": [0.0007, 0.0487], "nice": false, "zero": false}, "axis": {"orient": "left", "values": [0.005, 0.01, 0.015, 0.02, 0.025, 0.03, 0.035, 0.04, 0.045], "format": "~g", "title": "Output~=1*Target + -0.0017", "minExtent": 105, "maxExtent": 105}},
                    "color": {"field": "series", "type": "nominal"}}},
      {"transform": [{"filter": "datum.series === 'Data'"}], "mark": {"type": "point", "filled": false, "size": 420, "strokeWidth": 2.5, "opacity": 1},
       "encoding": {"x": {"field": "t", "type": "quantitative", "axis": null}, "y": {"field": "o", "type": "quantitative", "axis": null}, "color": {"field": "series", "type": "nominal"}}}
     ],
     "resolve": {"axis": {"x": "independent", "y": "independent"}}}
  ], "spacing": 183, "bounds": "flush",
  "title": {"text": "(e)", "orient": "bottom", "anchor": "middle", "frame": "bounds", "font": "Liberation Serif", "fontSize": 68, "fontWeight": "bold", "baseline": "top", "offset": 40, "color": "#000000"},
  "resolve": {"scale": {"color": "independent"}, "legend": {"color": "independent"}}}
 ], "spacing": 0, "resolve": {"scale": {"color": "independent"}, "legend": {"color": "independent"}}},
  {"hconcat": [
    {"width": 596, "height": 527, "title": {"text": "Validation: R=0.99826"}, "transform": [{"filter": "datum.panel === 'fv'"}],
     "layer": [
      {"transform": [{"filter": "datum.series === 'Y = T'"}], "mark": {"type": "line", "strokeDash": [3, 4], "strokeWidth": 2, "clip": true},
       "encoding": {"x": {"field": "t", "type": "quantitative", "scale": {"domain": [0.0041, 0.0207], "nice": false, "zero": false}, "axis": {"orient": "top", "values": [0.005, 0.01, 0.015, 0.02], "labels": false, "title": null}},
                    "y": {"field": "o", "type": "quantitative", "scale": {"domain": [0.0041, 0.0207], "nice": false, "zero": false}, "axis": {"orient": "right", "values": [0.005, 0.01, 0.015, 0.02], "labels": false, "title": null}},
                    "color": {"field": "series", "type": "nominal", "scale": {"domain": ["Data", "Fit", "Y = T"], "range": ["#262626", "#00ff00", "#777777"]},
                              "legend": {"title": null, "orient": "top-left", "offset": 25, "encode": {"symbols": {"update": {"shape": {"signal": "(datum.value === 'Data' ? 'circle' : 'stroke')"}, "size": {"signal": "(datum.value === 'Data' ? 380 : 10000)"}, "strokeWidth": {"signal": "(datum.value === 'Fit' ? 7 : (datum.value === 'Data' ? 2.5 : 2))"}, "strokeDash": {"signal": "(datum.value === 'Y = T' ? [3, 4] : [1, 0])"}, "fill": {"value": "transparent"}, "opacity": {"value": 1}}}}}}}},
      {"transform": [{"filter": "datum.series === 'Fit'"}], "mark": {"type": "line", "strokeWidth": 7, "clip": true},
       "encoding": {"x": {"field": "t", "type": "quantitative", "scale": {"domain": [0.0041, 0.0207], "nice": false, "zero": false}, "axis": {"orient": "bottom", "values": [0.005, 0.01, 0.015, 0.02], "format": "~g", "title": "Target", "minExtent": 58, "maxExtent": 58}},
                    "y": {"field": "o", "type": "quantitative", "scale": {"domain": [0.0041, 0.0207], "nice": false, "zero": false}, "axis": {"orient": "left", "values": [0.005, 0.01, 0.015, 0.02], "format": "~g", "title": "Output~=0.91*Target + 0.0012", "minExtent": 112, "maxExtent": 112}},
                    "color": {"field": "series", "type": "nominal"}}},
      {"transform": [{"filter": "datum.series === 'Data'"}], "mark": {"type": "point", "filled": false, "size": 420, "strokeWidth": 2.5, "opacity": 1},
       "encoding": {"x": {"field": "t", "type": "quantitative", "axis": null}, "y": {"field": "o", "type": "quantitative", "axis": null}, "color": {"field": "series", "type": "nominal"}}}
     ],
     "resolve": {"axis": {"x": "independent", "y": "independent"}}},
    {"width": 596, "height": 527, "title": {"text": "Test: R=0.99636", "offset": -10}, "transform": [{"filter": "datum.panel === 'ft'"}],
     "layer": [
      {"transform": [{"filter": "datum.series === 'Y = T'"}], "mark": {"type": "line", "strokeDash": [3, 4], "strokeWidth": 2, "clip": true},
       "encoding": {"x": {"field": "t", "type": "quantitative", "scale": {"domain": [0, 0.0207], "nice": false, "zero": false}, "axis": {"orient": "top", "values": [0, 0.005, 0.01, 0.015, 0.02], "labels": false, "title": null}},
                    "y": {"field": "o", "type": "quantitative", "scale": {"domain": [0, 0.0207], "nice": false, "zero": false}, "axis": {"orient": "right", "values": [0, 0.005, 0.01, 0.015, 0.02], "labels": false, "title": null}},
                    "color": {"field": "series", "type": "nominal", "scale": {"domain": ["Data", "Fit", "Y = T"], "range": ["#262626", "#ff0000", "#777777"]},
                              "legend": {"title": null, "orient": "top-left", "offset": 25, "encode": {"symbols": {"update": {"shape": {"signal": "(datum.value === 'Data' ? 'circle' : 'stroke')"}, "size": {"signal": "(datum.value === 'Data' ? 380 : 10000)"}, "strokeWidth": {"signal": "(datum.value === 'Fit' ? 7 : (datum.value === 'Data' ? 2.5 : 2))"}, "strokeDash": {"signal": "(datum.value === 'Y = T' ? [3, 4] : [1, 0])"}, "fill": {"value": "transparent"}, "opacity": {"value": 1}}}}}}}},
      {"transform": [{"filter": "datum.series === 'Fit'"}], "mark": {"type": "line", "strokeWidth": 7, "clip": true},
       "encoding": {"x": {"field": "t", "type": "quantitative", "scale": {"domain": [0, 0.0207], "nice": false, "zero": false}, "axis": {"orient": "bottom", "values": [0, 0.005, 0.01, 0.015, 0.02], "format": "~g", "title": "Target", "minExtent": 58, "maxExtent": 58}},
                    "y": {"field": "o", "type": "quantitative", "scale": {"domain": [0, 0.0207], "nice": false, "zero": false}, "axis": {"orient": "left", "values": [0, 0.005, 0.01, 0.015, 0.02], "format": "~g", "title": "Output~=0.79*Target + -0.0038", "minExtent": 107, "maxExtent": 107}},
                    "color": {"field": "series", "type": "nominal"}}},
      {"transform": [{"filter": "datum.series === 'Data'"}], "mark": {"type": "point", "filled": false, "size": 420, "strokeWidth": 2.5, "opacity": 1},
       "encoding": {"x": {"field": "t", "type": "quantitative", "axis": null}, "y": {"field": "o", "type": "quantitative", "axis": null}, "color": {"field": "series", "type": "nominal"}}}
     ],
     "resolve": {"axis": {"x": "independent", "y": "independent"}}}
  ], "spacing": 177, "bounds": "flush",
  "title": {"text": "(f)", "orient": "bottom", "anchor": "middle", "frame": "bounds", "font": "Liberation Serif", "fontSize": 68, "fontWeight": "bold", "baseline": "top", "offset": 32, "color": "#000000"},
  "resolve": {"scale": {"color": "independent"}, "legend": {"color": "independent"}}}
], "spacing": 110, "resolve": {"scale": {"color": "independent"}, "legend": {"color": "independent"}}},

{"hconcat": [
 {"hconcat": [
  {"width": 9, "height": 10, "data": {"values": []}, "mark": "point", "view": {"stroke": null}},
  {"hconcat": [
    {"width": 614, "height": 538, "title": {"text": "Validation: R=0.99010"}, "transform": [{"filter": "datum.panel === 'gv'"}],
     "layer": [
      {"transform": [{"filter": "datum.series === 'Y = T'"}], "mark": {"type": "line", "strokeDash": [3, 4], "strokeWidth": 2, "clip": true},
       "encoding": {"x": {"field": "t", "type": "quantitative", "scale": {"domain": [0, 1.85], "nice": false, "zero": false}, "axis": {"orient": "top", "values": [0, 0.5, 1, 1.5], "labels": false, "title": null}},
                    "y": {"field": "o", "type": "quantitative", "scale": {"domain": [0, 1.85], "nice": false, "zero": false}, "axis": {"orient": "right", "values": [0, 0.5, 1, 1.5], "labels": false, "title": null}},
                    "color": {"field": "series", "type": "nominal", "scale": {"domain": ["Data", "Fit", "Y = T"], "range": ["#262626", "#00ff00", "#777777"]},
                              "legend": {"title": null, "orient": "top-left", "offset": 25, "encode": {"symbols": {"update": {"shape": {"signal": "(datum.value === 'Data' ? 'circle' : 'stroke')"}, "size": {"signal": "(datum.value === 'Data' ? 380 : 10000)"}, "strokeWidth": {"signal": "(datum.value === 'Fit' ? 7 : (datum.value === 'Data' ? 2.5 : 2))"}, "strokeDash": {"signal": "(datum.value === 'Y = T' ? [3, 4] : [1, 0])"}, "fill": {"value": "transparent"}, "opacity": {"value": 1}}}}}}}},
      {"transform": [{"filter": "datum.series === 'Fit'"}], "mark": {"type": "line", "strokeWidth": 7, "clip": true},
       "encoding": {"x": {"field": "t", "type": "quantitative", "scale": {"domain": [0, 1.85], "nice": false, "zero": false}, "axis": {"orient": "bottom", "values": [0, 0.5, 1, 1.5], "format": "~g", "title": "Target", "minExtent": 55, "maxExtent": 55}},
                    "y": {"field": "o", "type": "quantitative", "scale": {"domain": [0, 1.85], "nice": false, "zero": false}, "axis": {"orient": "left", "values": [0, 0.5, 1, 1.5], "format": "~g", "title": "Output~=0.99*Target + 0.0047", "minExtent": 82, "maxExtent": 82}},
                    "color": {"field": "series", "type": "nominal"}}},
      {"transform": [{"filter": "datum.series === 'Data'"}], "mark": {"type": "point", "filled": false, "size": 420, "strokeWidth": 2.5, "opacity": 1},
       "encoding": {"x": {"field": "t", "type": "quantitative", "axis": null}, "y": {"field": "o", "type": "quantitative", "axis": null}, "color": {"field": "series", "type": "nominal"}}}
     ],
     "resolve": {"axis": {"x": "independent", "y": "independent"}}},
    {"width": 612, "height": 538, "title": {"text": "Test: R=0.99951", "offset": 3}, "transform": [{"filter": "datum.panel === 'gt'"}],
     "layer": [
      {"transform": [{"filter": "datum.series === 'Y = T'"}], "mark": {"type": "line", "strokeDash": [3, 4], "strokeWidth": 2, "clip": true},
       "encoding": {"x": {"field": "t", "type": "quantitative", "scale": {"domain": [0.045, 1.848], "nice": false, "zero": false}, "axis": {"orient": "top", "values": [0.5, 1, 1.5], "labels": false, "title": null}},
                    "y": {"field": "o", "type": "quantitative", "scale": {"domain": [0.045, 1.848], "nice": false, "zero": false}, "axis": {"orient": "right", "values": [0.2, 0.4, 0.6, 0.8, 1, 1.2, 1.4, 1.6, 1.8], "labels": false, "title": null}},
                    "color": {"field": "series", "type": "nominal", "scale": {"domain": ["Data", "Fit", "Y = T"], "range": ["#262626", "#ff0000", "#777777"]},
                              "legend": {"title": null, "orient": "top-left", "offset": 25, "encode": {"symbols": {"update": {"shape": {"signal": "(datum.value === 'Data' ? 'circle' : 'stroke')"}, "size": {"signal": "(datum.value === 'Data' ? 380 : 10000)"}, "strokeWidth": {"signal": "(datum.value === 'Fit' ? 7 : (datum.value === 'Data' ? 2.5 : 2))"}, "strokeDash": {"signal": "(datum.value === 'Y = T' ? [3, 4] : [1, 0])"}, "fill": {"value": "transparent"}, "opacity": {"value": 1}}}}}}}},
      {"transform": [{"filter": "datum.series === 'Fit'"}], "mark": {"type": "line", "strokeWidth": 7, "clip": true},
       "encoding": {"x": {"field": "t", "type": "quantitative", "scale": {"domain": [0.045, 1.848], "nice": false, "zero": false}, "axis": {"orient": "bottom", "values": [0.5, 1, 1.5], "format": "~g", "title": "Target", "minExtent": 55, "maxExtent": 55}},
                    "y": {"field": "o", "type": "quantitative", "scale": {"domain": [0.045, 1.848], "nice": false, "zero": false}, "axis": {"orient": "left", "values": [0.2, 0.4, 0.6, 0.8, 1, 1.2, 1.4, 1.6, 1.8], "format": "~g", "title": "Output~=0.93*Target + -0.033", "minExtent": 79, "maxExtent": 79}},
                    "color": {"field": "series", "type": "nominal"}}},
      {"transform": [{"filter": "datum.series === 'Data'"}], "mark": {"type": "point", "filled": false, "size": 420, "strokeWidth": 2.5, "opacity": 1},
       "encoding": {"x": {"field": "t", "type": "quantitative", "axis": null}, "y": {"field": "o", "type": "quantitative", "axis": null}, "color": {"field": "series", "type": "nominal"}}}
     ],
     "resolve": {"axis": {"x": "independent", "y": "independent"}}}
  ], "spacing": 179, "bounds": "flush",
  "title": {"text": "(g)", "orient": "bottom", "anchor": "middle", "frame": "bounds", "font": "Liberation Serif", "fontSize": 68, "fontWeight": "bold", "baseline": "top", "offset": 53, "color": "#000000"},
  "resolve": {"scale": {"color": "independent"}, "legend": {"color": "independent"}}}
 ], "spacing": 0, "resolve": {"scale": {"color": "independent"}, "legend": {"color": "independent"}}},
  {"hconcat": [
    {"width": 626, "height": 546, "title": {"text": "Validation: R=0.98252", "dx": 38, "offset": -33}, "transform": [{"filter": "datum.panel === 'hv'"}],
     "layer": [
      {"transform": [{"filter": "datum.series === 'Y = T'"}], "mark": {"type": "line", "strokeDash": [3, 4], "strokeWidth": 2, "clip": true},
       "encoding": {"x": {"field": "t", "type": "quantitative", "scale": {"domain": [0.00002, 0.00719], "nice": false, "zero": false}, "axis": {"orient": "top", "values": [0.002, 0.004, 0.006], "labels": false, "title": null}},
                    "y": {"field": "o", "type": "quantitative", "scale": {"domain": [0, 0.00725], "nice": false, "zero": false}, "axis": {"orient": "right", "values": [0.001, 0.002, 0.003, 0.004, 0.005, 0.006, 0.007], "labels": false, "title": null}},
                    "color": {"field": "series", "type": "nominal", "scale": {"domain": ["Data", "Fit", "Y = T"], "range": ["#262626", "#00ff00", "#777777"]},
                              "legend": {"title": null, "orient": "top-left", "offset": 25, "encode": {"symbols": {"update": {"shape": {"signal": "(datum.value === 'Data' ? 'circle' : 'stroke')"}, "size": {"signal": "(datum.value === 'Data' ? 380 : 10000)"}, "strokeWidth": {"signal": "(datum.value === 'Fit' ? 7 : (datum.value === 'Data' ? 2.5 : 2))"}, "strokeDash": {"signal": "(datum.value === 'Y = T' ? [3, 4] : [1, 0])"}, "fill": {"value": "transparent"}, "opacity": {"value": 1}}}}}}}},
      {"transform": [{"filter": "datum.series === 'Fit'"}], "mark": {"type": "line", "strokeWidth": 7, "clip": true},
       "encoding": {"x": {"field": "t", "type": "quantitative", "scale": {"domain": [0.00002, 0.00719], "nice": false, "zero": false}, "axis": {"orient": "bottom", "values": [0.002, 0.004, 0.006], "labelExpr": "format(datum.value * 1000, '~g')", "title": "Target", "minExtent": 53, "maxExtent": 53}},
                    "y": {"field": "o", "type": "quantitative", "scale": {"domain": [0, 0.00725], "nice": false, "zero": false}, "axis": {"orient": "left", "values": [0.001, 0.002, 0.003, 0.004, 0.005, 0.006, 0.007], "labelExpr": "format(datum.value * 1000, '~g')", "title": "Output~=0.89*Target + 0.00011", "minExtent": 58, "maxExtent": 58}},
                    "color": {"field": "series", "type": "nominal"}}},
      {"transform": [{"filter": "datum.series === 'Data'"}], "mark": {"type": "point", "filled": false, "size": 420, "strokeWidth": 2.5, "opacity": 1},
       "encoding": {"x": {"field": "t", "type": "quantitative", "axis": null}, "y": {"field": "o", "type": "quantitative", "axis": null}, "color": {"field": "series", "type": "nominal"}}},
      {"data": {"values": [{"note": "×10⁻³"}]}, "mark": {"type": "text", "align": "right", "baseline": "top", "dx": 13, "dy": 53, "fontSize": 30, "color": "#404040", "font": "Liberation Sans"},
       "encoding": {"x": {"datum": 0.00719, "type": "quantitative", "axis": null}, "y": {"datum": 0, "type": "quantitative", "axis": null}, "text": {"field": "note"}}},
      {"data": {"values": [{"note": "×10⁻³"}]}, "mark": {"type": "text", "align": "left", "baseline": "bottom", "dx": 0, "dy": -6, "fontSize": 30, "color": "#404040", "font": "Liberation Sans"},
       "encoding": {"x": {"datum": 0.00002, "type": "quantitative", "axis": null}, "y": {"datum": 0.00725, "type": "quantitative", "axis": null}, "text": {"field": "note"}}}
     ],
     "resolve": {"axis": {"x": "independent", "y": "independent"}}},
    {"width": 626, "height": 546, "title": {"text": "Test: R=0.99725", "offset": -33}, "transform": [{"filter": "datum.panel === 'ht'"}],
     "layer": [
      {"transform": [{"filter": "datum.series === 'Y = T'"}], "mark": {"type": "line", "strokeDash": [3, 4], "strokeWidth": 2, "clip": true},
       "encoding": {"x": {"field": "t", "type": "quantitative", "scale": {"domain": [0.00002, 0.00719], "nice": false, "zero": false}, "axis": {"orient": "top", "values": [0.002, 0.004, 0.006], "labels": false, "title": null}},
                    "y": {"field": "o", "type": "quantitative", "scale": {"domain": [0, 0.00725], "nice": false, "zero": false}, "axis": {"orient": "right", "values": [0.001, 0.002, 0.003, 0.004, 0.005, 0.006, 0.007], "labels": false, "title": null}},
                    "color": {"field": "series", "type": "nominal", "scale": {"domain": ["Data", "Fit", "Y = T"], "range": ["#262626", "#ff0000", "#777777"]},
                              "legend": {"title": null, "orient": "top-left", "offset": 25, "encode": {"symbols": {"update": {"shape": {"signal": "(datum.value === 'Data' ? 'circle' : 'stroke')"}, "size": {"signal": "(datum.value === 'Data' ? 380 : 10000)"}, "strokeWidth": {"signal": "(datum.value === 'Fit' ? 7 : (datum.value === 'Data' ? 2.5 : 2))"}, "strokeDash": {"signal": "(datum.value === 'Y = T' ? [3, 4] : [1, 0])"}, "fill": {"value": "transparent"}, "opacity": {"value": 1}}}}}}}},
      {"transform": [{"filter": "datum.series === 'Fit'"}], "mark": {"type": "line", "strokeWidth": 7, "clip": true},
       "encoding": {"x": {"field": "t", "type": "quantitative", "scale": {"domain": [0.00002, 0.00719], "nice": false, "zero": false}, "axis": {"orient": "bottom", "values": [0.002, 0.004, 0.006], "labelExpr": "format(datum.value * 1000, '~g')", "title": "Target", "minExtent": 53, "maxExtent": 53}},
                    "y": {"field": "o", "type": "quantitative", "scale": {"domain": [0, 0.00725], "nice": false, "zero": false}, "axis": {"orient": "left", "values": [0.001, 0.002, 0.003, 0.004, 0.005, 0.006, 0.007], "labelExpr": "format(datum.value * 1000, '~g')", "title": "Output~=1.1*Target + -0.0004", "minExtent": 53, "maxExtent": 53}},
                    "color": {"field": "series", "type": "nominal"}}},
      {"transform": [{"filter": "datum.series === 'Data'"}], "mark": {"type": "point", "filled": false, "size": 420, "strokeWidth": 2.5, "opacity": 1},
       "encoding": {"x": {"field": "t", "type": "quantitative", "axis": null}, "y": {"field": "o", "type": "quantitative", "axis": null}, "color": {"field": "series", "type": "nominal"}}},
      {"data": {"values": [{"note": "×10⁻³"}]}, "mark": {"type": "text", "align": "right", "baseline": "top", "dx": 13, "dy": 53, "fontSize": 30, "color": "#404040", "font": "Liberation Sans"},
       "encoding": {"x": {"datum": 0.00719, "type": "quantitative", "axis": null}, "y": {"datum": 0, "type": "quantitative", "axis": null}, "text": {"field": "note"}}},
      {"data": {"values": [{"note": "×10⁻³"}]}, "mark": {"type": "text", "align": "left", "baseline": "bottom", "dx": 0, "dy": -6, "fontSize": 30, "color": "#404040", "font": "Liberation Sans"},
       "encoding": {"x": {"datum": 0.00002, "type": "quantitative", "axis": null}, "y": {"datum": 0.00725, "type": "quantitative", "axis": null}, "text": {"field": "note"}}}
     ],
     "resolve": {"axis": {"x": "independent", "y": "independent"}}}
  ], "spacing": 124, "bounds": "flush",
  "title": {"text": "(h)", "orient": "bottom", "anchor": "middle", "frame": "bounds", "font": "Liberation Serif", "fontSize": 68, "fontWeight": "bold", "baseline": "top", "offset": 47, "color": "#000000"},
  "resolve": {"scale": {"color": "independent"}, "legend": {"color": "independent"}}}
], "spacing": 147, "resolve": {"scale": {"color": "independent"}, "legend": {"color": "independent"}}}
], "spacing": 22, "resolve": {"scale": {"color": "independent"}, "legend": {"color": "independent"}}}
], "spacing": 20, "resolve": {"scale": {"color": "independent"}, "legend": {"color": "independent"}}}
],
"spacing": 23,
"resolve": {"scale": {"color": "independent"}, "legend": {"color": "independent"}},
"config": {
  "font": "Liberation Sans",
  "view": {"stroke": "#333333", "strokeWidth": 2.5},
  "axis": {"grid": false, "domain": false, "tickColor": "#333333", "tickWidth": 2, "tickSize": -6, "labelFont": "Liberation Sans", "labelFontSize": 35, "labelColor": "#404040", "labelFlush": false, "labelOverlap": false, "titleFont": "Liberation Sans", "titleFontWeight": "bold", "titleColor": "#000000", "titlePadding": 0},
  "axisX": {"labelPadding": 18, "labelFlush": false, "titleFontSize": 40},
  "axisY": {"labelPadding": 19, "titleFontSize": 37},
  "legend": {"symbolType": "stroke", "symbolSize": 10000, "clipHeight": 31, "rowPadding": 4, "padding": 7, "labelOffset": 8, "labelFont": "Liberation Sans", "labelFontSize": 26, "labelColor": "#262626", "strokeColor": "#444444", "fillColor": "#ffffff", "symbolStrokeWidth": 2},
  "title": {"font": "Liberation Sans", "fontSize": 50, "fontWeight": "bold", "color": "#000000", "offset": 6, "baseline": "alphabetic", "anchor": "middle"}
}
}
